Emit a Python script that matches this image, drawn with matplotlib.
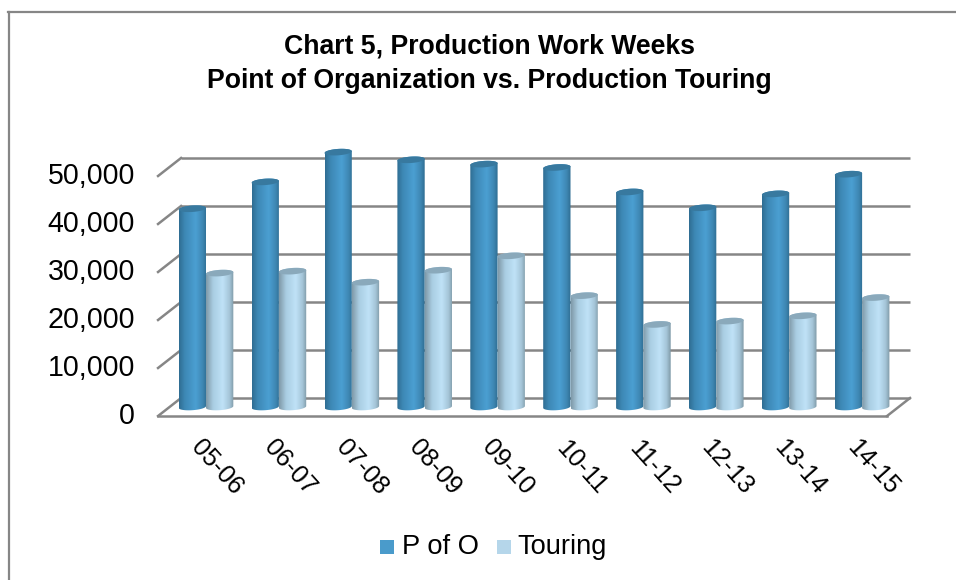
import numpy as np
import matplotlib
matplotlib.use('Agg')
import matplotlib.pyplot as plt
from matplotlib.colors import LinearSegmentedColormap
from matplotlib.lines import Line2D
from matplotlib.patches import Polygon, Rectangle

plt.rcParams['font.family'] = ['Liberation Sans', 'DejaVu Sans']

seasons = ['05-06', '06-07', '07-08', '08-09', '09-10',
           '10-11', '11-12', '12-13', '13-14', '14-15']
p_of_o = [41300, 46900, 53100, 51500, 50600, 49900, 44800, 41500, 44400, 48500]
touring = [27900, 28300, 26000, 28500, 31500, 23200, 17200, 17900, 19000, 22800]
yticks = [0, 10000, 20000, 30000, 40000, 50000]
series_names = ['P of O', 'Touring']

W, H = 956, 580
# pixel layout of the fake 3d box, bars stand at mid depth
X0 = 206.0     # px of first category centre
XSTEP = 72.9   # px per category
Y0 = 407.0     # px of value 0 at mid depth
YSCALE = 48.0 / 10000  # px per unit
DX = 11.5 / XSTEP      # half depth in category units
DY = 9.0 / YSCALE      # half depth in value units
BAR_W = 27.3 / XSTEP
CAP = 3.2 / YSCALE     # ellipse half height
TILT = 0.9 / YSCALE    # caps lean up to the right

GRID = '#868686'
cmap_p = LinearSegmentedColormap.from_list('p', [(0, '#2f6d92'), (0.2, '#3d88b5'),
                                                 (0.6, '#4b9fd2'), (0.85, '#3f88b4'),
                                                 (1, '#2f6d92')])
cmap_t = LinearSegmentedColormap.from_list('t', [(0, '#809aa9'), (0.25, '#a9cde2'),
                                                 (0.6, '#bfe2f7'), (0.85, '#a5c5d8'),
                                                 (1, '#7f99a7')])
top_p = '#38799f'
top_t = '#8aa9bb'

fig = plt.figure(figsize=(W / 100, H / 100), dpi=100)
ax = fig.add_axes([0, 0, 1, 1])
ax.axis('off')

n = len(seasons)
left, right = -0.5, n - 0.5

# walls
for v in yticks:
    ax.plot([left + DX, right + DX], [v + DY, v + DY], color=GRID, lw=1.8, zorder=1,
            solid_capstyle='butt')
    ax.plot([left - DX, left + DX], [v - DY, v + DY], color=GRID, lw=1.8, zorder=1)
    ax.text(left - DX - 23 / XSTEP, v - DY, f'{v:,}', ha='right', va='center',
            fontsize=20.6, color='black')
ax.plot([left - DX, right - DX], [-DY, -DY], color=GRID, lw=1.8, zorder=1)
ax.plot([right - DX, right + DX], [-DY, DY], color=GRID, lw=1.8, zorder=1)

gradient = np.linspace(0, 1, 64).reshape(1, -1)
theta = np.linspace(0, np.pi, 40)


def cylinder(xc, value, cmap, top_color, z):
    x0, x1 = xc - BAR_W / 2, xc + BAR_W / 2
    ux = -np.cos(theta)
    bx = xc + ux * BAR_W / 2
    by = -np.sin(theta) * CAP + ux * TILT
    tx = bx[::-1]
    ty = value + np.sin(theta[::-1]) * CAP + ux[::-1] * TILT
    outline = Polygon(np.column_stack([np.concatenate([bx, tx]), np.concatenate([by, ty])]),
                      closed=True, fc='none', ec='none')
    ax.add_patch(outline)
    im = ax.imshow(gradient, cmap=cmap, extent=[x0, x1, -2 * CAP, value + 2 * CAP],
                   aspect='auto', zorder=z, interpolation='bilinear')
    im.set_clip_path(outline)
    cap_x = np.concatenate([tx, tx[::-1]])
    cap_y = np.concatenate([ty, value - np.sin(theta) * CAP + ux * TILT])
    ax.add_patch(Polygon(np.column_stack([cap_x, cap_y]), closed=True, fc=top_color, ec='none',
                         zorder=z + 0.1))


for i in range(n):
    cylinder(i - BAR_W / 2, p_of_o[i], cmap_p, top_p, 3)
    cylinder(i + BAR_W / 2, touring[i], cmap_t, top_t, 4)
    ax.text(i + 10.5 / XSTEP, -60.5 / YSCALE, seasons[i], rotation=-48, ha='center',
            va='center', fontsize=18.2, rotation_mode='anchor')
# imshow resets limits, so set them last
ax.set_xlim((0 - X0) / XSTEP, (W - X0) / XSTEP)
ax.set_ylim((Y0 - H) / YSCALE, (Y0 - 0) / YSCALE)

# chart frame, only top and left show in the crop
fig.add_artist(Line2D([9 / W, 9 / W], [0, 1 - 12 / H], color=GRID, lw=1.6))
fig.add_artist(Line2D([8 / W, 1], [1 - 12 / H, 1 - 12 / H], color=GRID, lw=1.6))
fig.text(489 / W, 1 - 46 / H, 'Chart 5, Production Work Weeks', ha='center', va='center',
         fontsize=19.2, fontweight='bold')
fig.text(489 / W, 1 - 81 / H, 'Point of Organization vs. Production Touring', ha='center',
         va='center', fontsize=19.2, fontweight='bold')

# legend
fig.add_artist(Rectangle((380 / W, 1 - 554 / H), 14 / W, 14 / H, fc='#4a9bcb', ec='none',
                         transform=fig.transFigure))
fig.text(401.5 / W, 1 - 547 / H, series_names[0], ha='left', va='center', fontsize=19.6)
fig.add_artist(Rectangle((497 / W, 1 - 554 / H), 14 / W, 14 / H, fc='#b5d6ea', ec='none',
                         transform=fig.transFigure))
fig.text(517.5 / W, 1 - 547 / H, series_names[1], ha='left', va='center', fontsize=19.6)

fig.savefig('out.png', dpi=100)
